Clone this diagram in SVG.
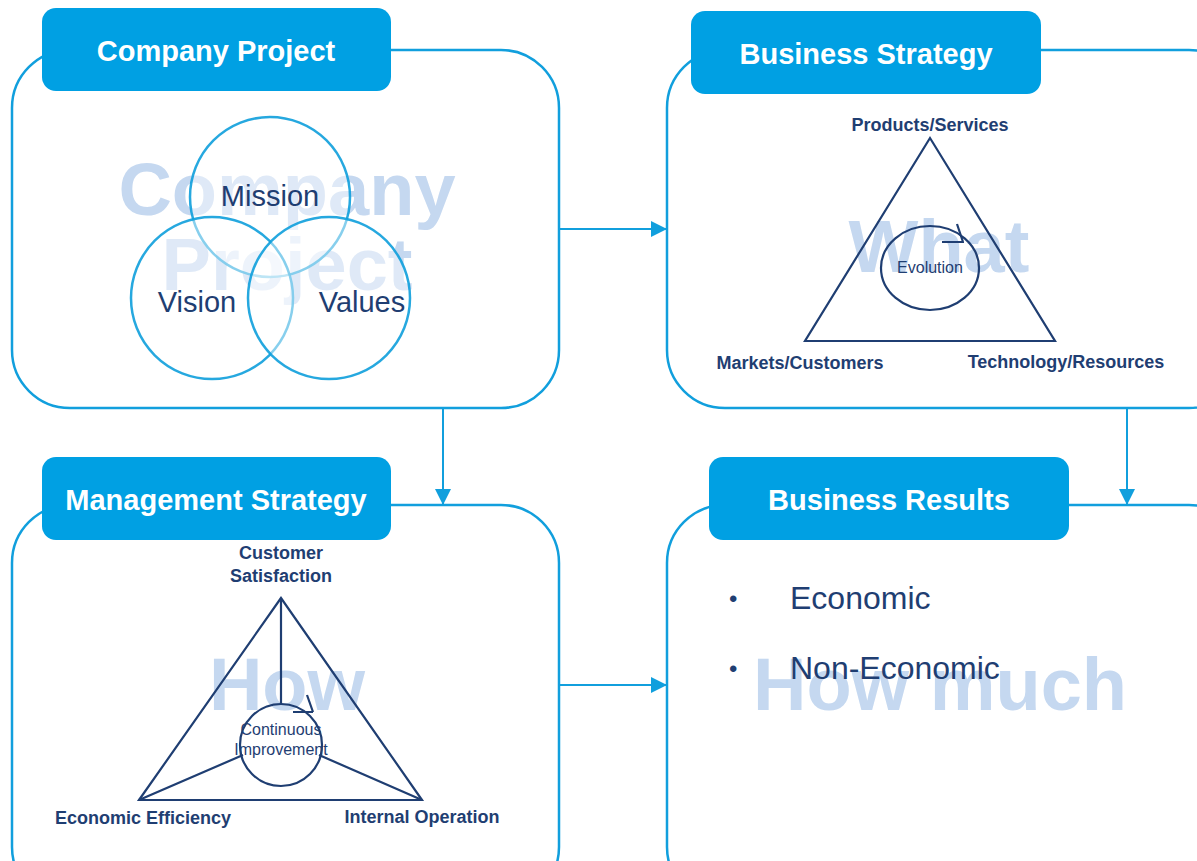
<svg xmlns="http://www.w3.org/2000/svg" width="1197" height="861" viewBox="0 0 1197 861">
<defs>
<style>
.box{fill:#fff;stroke:#119FDD;stroke-width:2.5}
.tab{fill:#00A0E3}
.tabt{font-family:"Liberation Sans",Arial,sans-serif;font-weight:bold;font-size:29px;fill:#fff;text-anchor:middle}
.wm{font-family:"Liberation Sans",Arial,sans-serif;font-weight:bold;font-size:74px;fill:#C5D8F0;text-anchor:middle}
.lbl{font-family:"Liberation Sans",Arial,sans-serif;font-weight:bold;font-size:18px;fill:#1F3E72;text-anchor:middle}
.sm{font-family:"Liberation Sans",Arial,sans-serif;font-size:16px;fill:#1F3E72;text-anchor:middle}
.venn{font-family:"Liberation Sans",Arial,sans-serif;font-size:29px;fill:#1F3E72;text-anchor:middle}
.big{font-family:"Liberation Sans",Arial,sans-serif;font-size:32px;fill:#1F3E72}
.circ{fill:#fff;fill-opacity:0.45;stroke:#0E9FDC;stroke-width:2.5;stroke-opacity:0.9}
.nav{fill:none;stroke:#1F3E72;stroke-width:2.2}
.conn{stroke:#119FDD;stroke-width:2;fill:none}
</style>
<marker id="ah2" markerWidth="16" markerHeight="16" refX="15" refY="8" orient="auto" markerUnits="userSpaceOnUse" viewBox="0 0 16 16">
<path d="M0,0 L16,8 L0,16 z" fill="#119FDD"/>
</marker>
</defs>

<g id="company-project">
<rect class="box" x="12" y="50" width="547" height="358" rx="58"/>
<rect class="tab" x="42" y="8" width="349" height="83" rx="14"/>
<text class="tabt" x="216" y="61">Company Project</text>
<text class="wm" x="287" y="215">Company</text>
<text class="wm" x="287" y="290">Project</text>
<circle class="circ" cx="270" cy="197" r="80"/>
<circle class="circ" cx="212" cy="298" r="81"/>
<circle class="circ" cx="329" cy="298" r="81"/>
<text class="venn" x="270" y="206">Mission</text>
<text class="venn" x="197" y="312">Vision</text>
<text class="venn" x="362" y="312">Values</text>
</g>

<g id="business-strategy">
<rect class="box" x="667" y="50" width="580" height="358" rx="58"/>
<rect class="tab" x="691" y="11" width="350" height="83" rx="14"/>
<text class="tabt" x="866" y="64">Business Strategy</text>
<text class="wm" x="939" y="272">What</text>
<path class="nav" d="M930,138 L805,341 L1055,341 Z"/>
<ellipse class="nav" cx="930" cy="268" rx="49" ry="42"/>
<path class="nav" d="M942,242 L964,242 M957,224 L963,242"/>
<text class="sm" x="930" y="273">Evolution</text>
<text class="lbl" x="930" y="131">Products/Services</text>
<text class="lbl" x="800" y="369">Markets/Customers</text>
<text class="lbl" x="1066" y="368">Technology/Resources</text>
</g>

<g id="management-strategy">
<rect class="box" x="12" y="505" width="547" height="400" rx="58"/>
<rect class="tab" x="42" y="457" width="349" height="83" rx="14"/>
<text class="tabt" x="216" y="510">Management Strategy</text>
<text class="wm" x="287" y="710">How</text>
<path class="nav" d="M281,598 L139,800 L422,800 Z"/>
<path class="nav" d="M281,598 L281,704 M139,800 L243,755 M422,800 L319,755"/>
<circle class="nav" cx="281" cy="745" r="41"/>
<path class="nav" d="M293,712 L313,712 M307,695 L313,712"/>
<text class="sm" x="281" y="735">Continuous</text>
<text class="sm" x="281" y="755">Improvement</text>
<text class="lbl" x="281" y="559">Customer</text>
<text class="lbl" x="281" y="582">Satisfaction</text>
<text class="lbl" x="143" y="824">Economic Efficiency</text>
<text class="lbl" x="422" y="823">Internal Operation</text>
</g>

<g id="business-results">
<rect class="box" x="667" y="505" width="580" height="400" rx="58"/>
<rect class="tab" x="709" y="457" width="360" height="83" rx="14"/>
<text class="tabt" x="889" y="510">Business Results</text>
<text class="wm" x="940" y="710">How much</text>
<text class="big" x="729" y="607" style="font-size:24px">•</text>
<text class="big" x="790" y="609">Economic</text>
<text class="big" x="729" y="677" style="font-size:24px">•</text>
<text class="big" x="790" y="679">Non-Economic</text>
</g>

<g id="connectors">
<line class="conn" x1="559" y1="229" x2="666" y2="229" marker-end="url(#ah2)"/>
<line class="conn" x1="443" y1="408" x2="443" y2="504" marker-end="url(#ah2)"/>
<line class="conn" x1="1127" y1="408" x2="1127" y2="504" marker-end="url(#ah2)"/>
<line class="conn" x1="559" y1="685" x2="666" y2="685" marker-end="url(#ah2)"/>
</g>
</svg>
